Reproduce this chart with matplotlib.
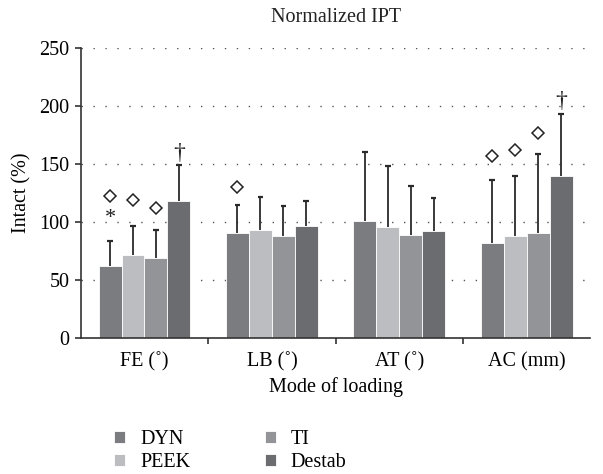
"""Normalized IPT bar chart: four implant conditions per loading mode."""

import numpy as np
import matplotlib.pyplot as plt

plt.rcParams['font.family'] = ['Liberation Serif', 'DejaVu Serif']

MODES = ['FE (˚)', 'LB (˚)', 'AT (˚)', 'AC (mm)']
GROUPS = ['DYN', 'PEEK', 'TI', 'Destab']
COLORS = ['#7b7c80', '#bcbdc1', '#939498', '#6b6c70']

# means and upper SD (percent of intact)
DYN = [62.5, 90.5, 101.5, 82.0]
PEEK = [72.0, 93.5, 96.0, 88.0]
TI = [69.5, 88.0, 89.0, 90.5]
DESTAB = [118.5, 96.5, 92.5, 140.0]
DYN_ERR = [84, 115, 160.5, 136.5]
PEEK_ERR = [97, 122, 148.5, 139.5]
TI_ERR = [93.5, 114, 131.5, 158.5]
DESTAB_ERR = [149, 118, 121, 193.5]

# significance markers: (mode index, group index, y)
DIAMONDS = [(0, 0, 123), (0, 1, 119), (0, 2, 112), (1, 0, 130),
            (3, 0, 157.5), (3, 1, 162), (3, 2, 177)]
ASTERISKS = [(0, 0, 103)]
DAGGERS = [(0, 3, 150), (3, 3, 195)]

means = [DYN, PEEK, TI, DESTAB]
tops = [DYN_ERR, PEEK_ERR, TI_ERR, DESTAB_ERR]

FS = 14.5

fig = plt.figure(figsize=(6.03, 4.74), dpi=100)
ax = fig.add_axes([0.134, 0.2863, 0.845, 0.612])

x = np.arange(len(MODES))
width = 0.18
offsets = (np.arange(4) - 1.5) * width

for yv in [50, 100, 150, 200, 250]:
    ax.axhline(yv, color='#555555', linewidth=1.0, linestyle=(0, (1, 7.6)),
               zorder=0)

for i, g in enumerate(GROUPS):
    m = np.array(means[i])
    xs = x + offsets[i]
    ax.bar(xs, m, width, color=COLORS[i], edgecolor='white',
           linewidth=0.6, label=g, zorder=2)
    ax.vlines(xs, m, tops[i], color='#2a2a2a', linewidth=1.3, zorder=3)
    ax.hlines(tops[i], xs - 0.022, xs + 0.022, color='#2a2a2a',
              linewidth=1.6, zorder=3)

for mi, gi, yv in DIAMONDS:
    ax.plot(x[mi] + offsets[gi], yv, marker='D', markersize=6.0,
            markerfacecolor='white', markeredgecolor='#222222',
            markeredgewidth=1.1, linestyle='none', zorder=4)
for mi, gi, yv in ASTERISKS:
    ax.text(x[mi] + offsets[gi], yv, '*', ha='center', va='center',
            fontsize=16, color='#222222', zorder=4)
for mi, gi, yv in DAGGERS:
    ax.text(x[mi] + offsets[gi], yv, '†', ha='center', va='bottom',
            fontsize=17, color='#222222', zorder=4)

ax.set_xlim(-0.5, 3.5)
ax.set_ylim(0, 250)
ax.set_yticks([0, 50, 100, 150, 200, 250])
ax.set_xticks([0.5, 1.5, 2.5])
ax.set_xticklabels([])
ax.set_xticks(x, minor=True)
ax.set_xticklabels(MODES, minor=True, fontsize=FS)
ax.tick_params(axis='x', which='minor', length=0, pad=10)
ax.tick_params(axis='x', which='major', direction='out', length=4,
               width=1.2, color='#333333')
ax.tick_params(axis='y', direction='out', length=4, width=1.2,
               color='#333333', labelsize=FS, pad=4)
ax.spines[['top', 'right']].set_visible(False)
ax.spines[['left', 'bottom']].set_color('#333333')
ax.spines[['left', 'bottom']].set_linewidth(1.2)

ax.set_ylabel('Intact (%)', fontsize=FS, labelpad=6)
ax.set_xlabel('Mode of loading', fontsize=FS, labelpad=4)
ax.set_title('Normalized IPT', fontsize=FS, pad=19, color='#222222')

handles, labels = ax.get_legend_handles_labels()
fig.legend(handles, labels, loc='upper left', bbox_to_anchor=(0.172, 0.114),
           ncol=2, frameon=False, fontsize=FS, handlelength=0.55,
           handleheight=0.55, handletextpad=0.75, columnspacing=3.7,
           labelspacing=0.2, borderpad=0)

fig.savefig('out.png', dpi=100)
